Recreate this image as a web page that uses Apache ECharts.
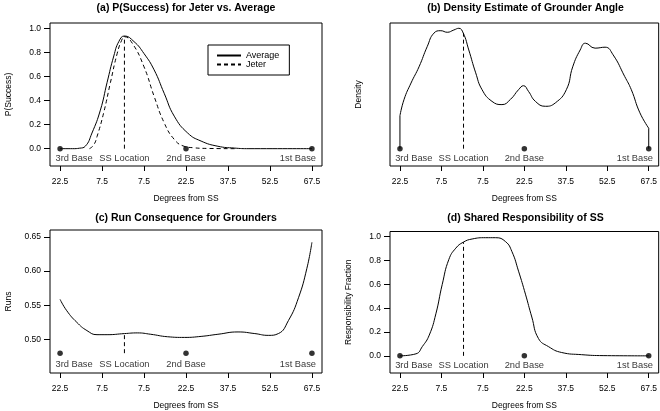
<!DOCTYPE html>
<html>
<head>
<meta charset="utf-8">
<script src="https://cdn.jsdelivr.net/npm/echarts@6/dist/echarts.min.js"></script>
<style>
html,body{margin:0;padding:0;background:#fff;}
#chart{width:660px;height:411px;}
</style>
</head>
<body>
<div id="chart"></div>
<script>
// ---- data ----
const tickValues = [-22.5, -7.5, 7.5, 22.5, 37.5, 52.5, 67.5];
const tickLabels = ["22.5", "7.5", "7.5", "22.5", "37.5", "52.5", "67.5"];
const baseX = [-22.5, 22.5, 67.5];
const annotX = [-17.5, 0.5, 22.5, 62.5];
const annotText = ["3rd Base", "SS Location", "2nd Base", "1st Base"];
const ssX = 0.5;

const titles = ["(a) P(Success) for Jeter vs. Average", "(b) Density Estimate of Grounder Angle",
                "(c) Run Consequence for Grounders", "(d) Shared Responsibility of SS"];
const yNames = ["P(Success)", "Density", "Runs", "Responsibility Fraction"];
const xName = "Degrees from SS";
const probTicks = [0, 0.2, 0.4, 0.6, 0.8, 1.0];
const runTicks = [0.50, 0.55, 0.60, 0.65];

// (a)
const avgX = [-22.5, -18, -15.5, -13.5, -11.1, -8.1, -5.7, -3.3, -1.5, 0.5, 3.9, 7.5, 11.1, 14.7, 18.3, 23.1, 27.9, 33.9, 39.8, 45, 67.5];
const avgY = [0, 0, 0.004, 0.02, 0.13, 0.32, 0.55, 0.77, 0.89, 0.936, 0.89, 0.79, 0.655, 0.46, 0.27, 0.13, 0.063, 0.02, 0.005, 0, 0];
const jeterX = [-12, -10.5, -9.3, -6.9, -4.5, -2.1, -0.5, 0.5, 3.3, 7.5, 11.1, 14.7, 18.3, 21.8, 25, 30, 40];
const jeterY = [0, 0.03, 0.10, 0.30, 0.55, 0.79, 0.9, 0.93, 0.876, 0.68, 0.435, 0.215, 0.077, 0.02, 0.008, 0.002, 0];
const ssA = 0.936;

// (b)
const densX = [-22.5, -21, -18.5, -15.6, -12.6, -10.2, -7.7, -5.4, -3.0, -1.2, 0.4, 2.4, 4.9, 7.2, 10.8, 14.4, 17.5, 20.4, 22.2, 24.0, 26.5, 30.1, 33.7, 37.7, 40.0, 42.7, 44.6, 48.1, 51.7, 54.6, 58.8, 61.2, 64.3, 67.5];
const densY = [0.274, 0.41, 0.545, 0.68, 0.85, 0.96, 0.98, 0.967, 0.986, 1.0, 0.96, 0.82, 0.63, 0.49, 0.393, 0.366, 0.41, 0.49, 0.523, 0.476, 0.393, 0.352, 0.38, 0.49, 0.68, 0.82, 0.876, 0.835, 0.843, 0.78, 0.6, 0.49, 0.298, 0.17];
const ssB = 0.96;

// (c)
const runsX = [-22.5, -20.1, -16.5, -12.9, -9.3, -5.7, 0.5, 5.1, 9.9, 15.9, 21.9, 27.9, 33.9, 41.1, 47.1, 51.9, 55.5, 59.1, 62.7, 65.7, 67.5];
const runsY = [0.5586, 0.542, 0.525, 0.513, 0.507, 0.507, 0.5086, 0.5096, 0.5076, 0.504, 0.503, 0.5045, 0.5076, 0.511, 0.5086, 0.506, 0.5086, 0.5276, 0.561, 0.604, 0.642];
const runsBase = 0.48;
const runsText = 0.4633;
const ssC = 0.5086;

// (d)
const respX = [-22.5, -16.7, -14.4, -11.9, -9.5, -7.2, -4.8, -2.3, 0.4, 3.6, 8.5, 12.1, 15.7, 18.0, 20.4, 22.9, 25.2, 27.6, 31.2, 36.0, 43.2, 51, 67.5];
const respY = [0, 0.017, 0.078, 0.174, 0.353, 0.60, 0.81, 0.904, 0.954, 0.981, 0.992, 0.992, 0.959, 0.876, 0.711, 0.518, 0.326, 0.146, 0.078, 0.028, 0.01, 0.002, 0];
const ssD = 0.954;

const annotY = -0.083;

// ---- layout ----
const FONT = "Liberation Sans";
const grids = [
  {left: 50, top: 23, width: 272, height: 143},
  {left: 390, top: 23, width: 271, height: 143},
  {left: 50, top: 230, width: 272, height: 145},
  {left: 390, top: 231.5, width: 271, height: 145}
];
const yRanges = [[-0.144, 1.044], [-0.144, 1.044], [0.451, 0.660], [-0.144, 1.044]];
const yTicks = [probTicks, null, runTicks, probTicks];
const yDigits = [1, 1, 2, 1];
const yNameGaps = [37, 27, 37, 37];

const zip = (xs, ys) => xs.map((x, i) => [x, ys[i]]);

const option = {
  animation: false,
  backgroundColor: '#fff',
  textStyle: {fontFamily: FONT, color: '#000'},
  title: titles.map((t, i) => ({
    text: t,
    left: grids[i].left + grids[i].width / 2,
    top: i < 2 ? 3 : 213,
    textAlign: 'center',
    padding: 0,
    textStyle: {fontFamily: FONT, fontSize: 10.5, fontWeight: 'bold', color: '#000'}
  })),
  grid: grids.map(g => Object.assign({show: true, borderColor: '#000', borderWidth: 1, backgroundColor: 'transparent'}, g)),
  xAxis: grids.map((g, i) => ({
    type: 'value', gridIndex: i, min: -26.1, max: 71.1,
    name: xName, nameLocation: 'middle', nameGap: 28,
    nameTextStyle: {fontFamily: FONT, fontSize: 8.5, color: '#000'},
    splitLine: {show: false},
    axisLine: {show: false, onZero: false},
    axisTick: {show: true, customValues: tickValues, length: 5, lineStyle: {color: '#000', width: 1}},
    axisLabel: {show: true, customValues: tickValues, margin: 11, fontFamily: FONT, fontSize: 8.5, color: '#000',
      formatter: v => { const k = tickValues.findIndex(t => Math.abs(t - v) < 1e-6); return k >= 0 ? tickLabels[k] : ''; }}
  })),
  yAxis: grids.map((g, i) => ({
    type: 'value', gridIndex: i, min: yRanges[i][0], max: yRanges[i][1],
    name: yNames[i], nameLocation: 'middle', nameGap: yNameGaps[i],
    nameTextStyle: {fontFamily: FONT, fontSize: 8.5, color: '#000'},
    splitLine: {show: false},
    axisLine: {show: false, onZero: false},
    axisTick: yTicks[i] ? {show: true, customValues: yTicks[i], length: 6, lineStyle: {color: '#000', width: 1}} : {show: false},
    axisLabel: yTicks[i] ? {show: true, customValues: yTicks[i], margin: 9, fontFamily: FONT, fontSize: 8.5, color: '#000',
      formatter: v => v.toFixed(yDigits[i])} : {show: false}
  })),
  legend: {
    data: ['Average', 'Jeter'],
    orient: 'vertical', left: 208, top: 45,
    borderColor: '#000', borderWidth: 1, borderRadius: 0,
    padding: [6, 10, 6, 8], itemGap: 0, itemWidth: 24, itemHeight: 7,
    itemStyle: {opacity: 0},
    textStyle: {fontFamily: FONT, fontSize: 9, lineHeight: 9, color: '#000'}
  },
  series: []
};

const lineS = (name, data, gi, dashed, smooth) => ({
  name: name, type: 'line', xAxisIndex: gi, yAxisIndex: gi, data: data,
  symbol: 'none', showSymbol: false, smooth: smooth ? 0.5 : false,
  lineStyle: {color: '#000', width: 1, type: dashed ? [4, 3] : 'solid'},
  itemStyle: {color: '#000'}, silent: true
});
const dotsS = (gi, y) => ({
  type: 'scatter', xAxisIndex: gi, yAxisIndex: gi, data: baseX.map(x => [x, y]),
  symbol: 'circle', symbolSize: 5.5, itemStyle: {color: '#000'}, silent: true
});
const textS = (gi, y) => ({
  type: 'scatter', xAxisIndex: gi, yAxisIndex: gi,
  data: annotX.map((x, k) => ({value: [x, y], name: annotText[k]})),
  symbolSize: 0, silent: true,
  label: {show: true, position: 'inside', formatter: p => p.name, fontFamily: FONT, fontSize: 9.3, color: '#000'}
});

// (a)
option.series.push(lineS('Average', zip(avgX, avgY), 0, false, true));
option.series.push(lineS('Jeter', zip(jeterX, jeterY), 0, true, true));
option.series.push(lineS('ssA', [[ssX, 0], [ssX, ssA]], 0, true, false));
option.series.push(dotsS(0, 0));
option.series.push(textS(0, annotY));
// (b)
option.series.push(lineS('dens', zip(densX, densY), 1, false, true));
option.series.push(lineS('densL', [[densX[0], 0], [densX[0], densY[0]]], 1, false, false));
option.series.push(lineS('densR', [[densX[densX.length - 1], 0], [densX[densX.length - 1], densY[densY.length - 1]]], 1, false, false));
option.series.push(lineS('ssB', [[ssX, 0], [ssX, ssB]], 1, true, false));
option.series.push(dotsS(1, 0));
option.series.push(textS(1, annotY));
// (c)
option.series.push(lineS('runs', zip(runsX, runsY), 2, false, true));
option.series.push(lineS('ssC', [[ssX, runsBase], [ssX, ssC]], 2, true, false));
option.series.push(dotsS(2, runsBase));
option.series.push(textS(2, runsText));
// (d)
option.series.push(lineS('resp', zip(respX, respY), 3, false, true));
option.series.push(lineS('ssD', [[ssX, 0], [ssX, ssD]], 3, true, false));
option.series.push(dotsS(3, 0));
option.series.push(textS(3, annotY));

const chart = echarts.init(document.getElementById('chart'), null, {renderer: 'canvas'});
chart.setOption(option);
</script>
</body>
</html>
